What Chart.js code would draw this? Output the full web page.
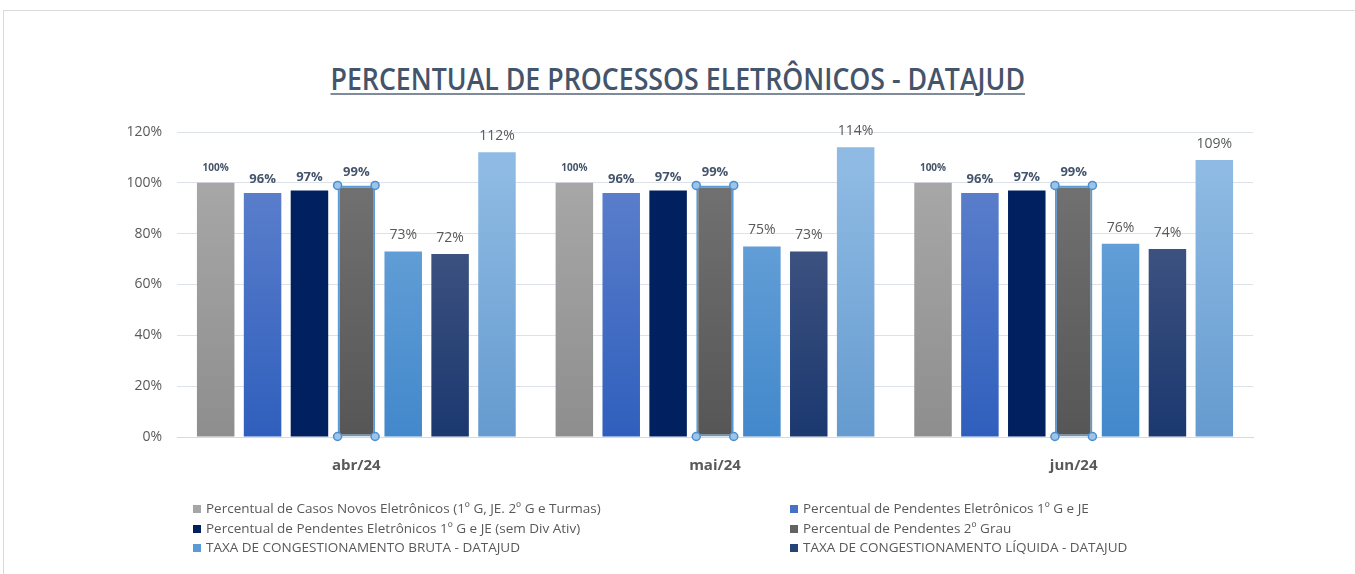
<!DOCTYPE html>
<html>
<head>
<meta charset="utf-8">
<script src="https://cdn.jsdelivr.net/npm/chart.js@4.4.1/dist/chart.umd.min.js"></script>
<style>
  html, body { margin: 0; padding: 0; background: #fff; }
  #wrap { position: relative; width: 1355px; height: 574px; overflow: hidden; }
  #frame { position: absolute; left: 3px; top: 10px; right: 0; bottom: 0;
           border-top: 1px solid #d9d9d9; border-left: 1px solid #d9d9d9; }
  #titulo { position: absolute; left: 0; width: 1355px; top: 57px; text-align: center;
            font-family: "Open Sans", sans-serif; font-size: 31px; font-weight: 600;
            color: #44546a; white-space: nowrap; }
  #titulo span { display: inline-block; text-decoration: underline; text-decoration-thickness: 2px;
                 text-decoration-color: #7f8a9a; text-underline-offset: 3px; transform-origin: center; }
  canvas { position: absolute; left: 0; top: 0; }
  #legenda { position: absolute; left: 0; top: 499px; width: 1355px;
             font-family: "Open Sans", sans-serif; font-size: 13.5px; color: #595959; }
  .item { position: absolute; white-space: nowrap; line-height: 19px; }
  .item i { display: inline-block; width: 8px; height: 8px; margin-right: 5px; vertical-align: 0px; }
</style>
</head>
<body>
<div id="wrap">
  <div id="frame"></div>
  <div id="titulo"><span>PERCENTUAL DE PROCESSOS ELETRÔNICOS - DATAJUD</span></div>
  <canvas id="grafico" width="1355" height="574"></canvas>
  <div id="legenda"></div>
</div>
<script>
// --- Dados ---
const meses = ['abr/24', 'mai/24', 'jun/24'];

const casosNovos = [100, 100, 100];
const pendentes1G = [96, 96, 96];
const pendentesSemDiv = [97, 97, 97];
const pendentes2G = [99, 99, 99];
const congBruta = [73, 75, 76];
const congLiquida = [72, 73, 74];
const ultimaSerie = [112, 114, 109];

const nomesSeries = [
  'Percentual de Casos Novos Eletrônicos (1º G, JE. 2º G e Turmas)',
  'Percentual de Pendentes Eletrônicos 1º G e JE',
  'Percentual de Pendentes Eletrônicos 1º G e JE (sem Div Ativ)',
  'Percentual de Pendentes 2º Grau',
  'TAXA DE CONGESTIONAMENTO BRUTA - DATAJUD',
  'TAXA DE CONGESTIONAMENTO LÍQUIDA - DATAJUD',
  ''
];

const ticksY = [0, 20, 40, 60, 80, 100, 120];

// cores: [topo, base] do gradiente
const cores = [
  ['#a8a8a8', '#8e8e8e'],
  ['#5d80cc', '#2f5fbd'],
  ['#002060', '#002060'],
  ['#727272', '#565656'],
  ['#6ea6db', '#4288cb'],
  ['#4a5c86', '#1b386f'],
  ['#8ebae3', '#659bcf']
];

const legendaCor = ['#a6a6a6', '#4472c4', '#002060', '#636363', '#5b9bd5', '#264478'];

const valores = [casosNovos, pendentes1G, pendentesSemDiv, pendentes2G, congBruta, congLiquida, ultimaSerie];

const fonte = '"Open Sans", sans-serif';

function gradiente(ctx, area, par) {
  const g = ctx.createLinearGradient(0, area.bottom, 0, area.top + 40);
  g.addColorStop(0, par[1]);
  g.addColorStop(1, par[0]);
  return g;
}

const datasets = valores.map((v, i) => ({
  label: nomesSeries[i],
  data: v,
  backgroundColor: (c) => {
    const area = c.chart.chartArea;
    if (!area) return cores[i][0];
    return gradiente(c.chart.ctx, area, cores[i]);
  },
  borderColor: i === 3 ? '#5b9bd5' : 'transparent',
  borderWidth: i === 3 ? 2 : 0,
  borderSkipped: false,
  barPercentage: 0.8,
  categoryPercentage: 0.915
}));

// Rótulos acima das barras
const rotulos = {
  id: 'rotulos',
  afterDatasetsDraw(chart) {
    const ctx = chart.ctx;
    ctx.save();
    ctx.textAlign = 'center';
    ctx.textBaseline = 'bottom';
    chart.data.datasets.forEach((ds, i) => {
      const meta = chart.getDatasetMeta(i);
      meta.data.forEach((bar, j) => {
        if (i === 0) { ctx.font = 'bold 10px ' + fonte; ctx.fillStyle = '#44546a'; }
        else if (i < 4) { ctx.font = 'bold 13px ' + fonte; ctx.fillStyle = '#44546a'; }
        else { ctx.font = '14px ' + fonte; ctx.fillStyle = '#595959'; }
        const off = i === 0 ? 10 : (i < 4 ? 7 : 9);
        ctx.fillText(ds.data[j] + '%', bar.x, bar.y - off);
      });
    });
    // alças de seleção da série 2º Grau
    const sel = chart.getDatasetMeta(3);
    sel.data.forEach(bar => {
      const w = bar.width / 2;
      [[bar.x - w, bar.y], [bar.x + w, bar.y], [bar.x - w, bar.base], [bar.x + w, bar.base]].forEach(p => {
        ctx.beginPath();
        ctx.arc(p[0], p[1], 4, 0, Math.PI * 2);
        ctx.fillStyle = '#9dc3e6';
        ctx.fill();
        ctx.lineWidth = 1.5;
        ctx.strokeStyle = '#4a90d0';
        ctx.stroke();
      });
    });
    ctx.restore();
  }
};

const config = {
  type: 'bar',
  data: { labels: meses, datasets: datasets },
  options: {
    responsive: false,
    animation: false,
    layout: { padding: { top: 132, right: 102, bottom: 0, left: 0 } },
    plugins: { legend: { display: false }, tooltip: { enabled: false }, title: { display: false } },
    scales: {
      x: {
        grid: { display: false },
        border: { color: '#d9d9d9' },
        ticks: { color: '#595959', padding: 12, font: { family: fonte, size: 15, weight: 'bold' } },
        afterFit: (s) => { s.height = 137; }
      },
      y: {
        min: 0, max: 120,
        afterBuildTicks: (s) => { s.ticks = ticksY.map(v => ({ value: v })); },
        grid: { color: '#dde1e8', drawTicks: false },
        border: { display: false },
        ticks: { color: '#595959', padding: 15, callback: v => v + '%', font: { family: fonte, size: 14 } },
        afterFit: (s) => { s.width = 177; }
      }
    }
  },
  plugins: [rotulos]
};

window.myChart = new Chart(document.getElementById('grafico').getContext('2d'), config);

// Legenda em duas colunas
const legenda = document.getElementById('legenda');
for (let i = 0; i < 6; i++) {
  const el = document.createElement('div');
  el.className = 'item';
  el.style.left = (i % 2 === 0 ? 193 : 790) + 'px';
  el.style.top = (Math.floor(i / 2) * 19.5) + 'px';
  el.innerHTML = '<i style="background:' + legendaCor[i] + '"></i>' + nomesSeries[i];
  legenda.appendChild(el);
}

// ajusta largura do título
const t = document.querySelector('#titulo span');
t.style.transform = 'scaleX(' + (695 / t.offsetWidth) + ')';
</script>
</body>
</html>
